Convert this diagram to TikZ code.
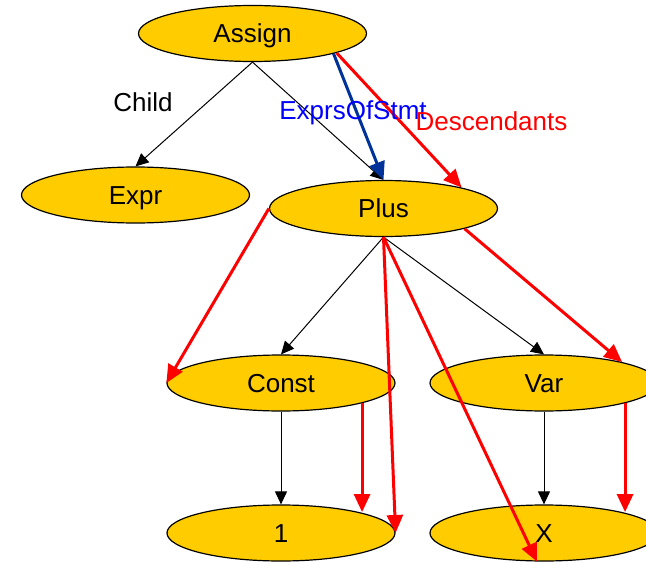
\documentclass[tikz,border=0pt]{standalone}
\usepackage{fontspec}
\setmainfont{Liberation Sans}
\usetikzlibrary{shapes.geometric,arrows.meta}
\definecolor{nodegold}{RGB}{255,204,0}
\definecolor{stmtblue}{RGB}{0,51,153}
\definecolor{labelblue}{RGB}{0,0,255}
\definecolor{descred}{RGB}{255,0,0}
\tikzset{
  astnode/.style={ellipse, draw=black, line width=1.2pt, fill=nodegold,
    minimum width=228pt, minimum height=56pt, inner sep=0pt,
    text height=18.6pt, text depth=0pt,
    font=\fontsize{26}{30}\selectfont},
  childedge/.style={draw=black, line width=1pt,
    -{Triangle[length=13pt,width=12pt]}},
  descedge/.style={draw=descred, line width=3pt,
    -{Triangle[length=18pt,width=16pt]}},
  stmtedge/.style={draw=stmtblue, line width=3pt,
    -{Triangle[length=18pt,width=16pt]}},
  edgelabel/.style={inner sep=0pt, text height=18.6pt, text depth=0pt,
    font=\fontsize{26}{30}\selectfont}
}
\begin{document}
\begin{tikzpicture}[x=1pt,y=-1pt]
  \useasboundingbox (0,0) rectangle (646,562);
  \clip (0,0) rectangle (646,562);

  % tree nodes
  \node[astnode] (Assign) at (252.5,33.5) {Assign};
  \node[astnode] (Expr)   at (135.5,195)  {Expr};
  \node[astnode] (Plus)   at (383.5,208.5) {Plus};
  \node[astnode] (Const)  at (281,383)    {Const};
  \node[astnode] (Var)    at (544,383)    {Var};
  \node[astnode] (one)    at (281,533)    {1};
  \node[astnode] (X)      at (544,533)    {X};

  % child edges
  \draw[childedge] (Assign.south) -- (Expr.north);
  \draw[childedge] (Assign.south) -- (Plus.north);
  \draw[childedge] (Plus.south) -- (Const.north);
  \draw[childedge] (Plus.south) -- (Var.north);
  \draw[childedge] (Const.south) -- (one.north);
  \draw[childedge] (Var.south) -- (X.north);

  % expressions of the statement
  \draw[stmtedge] (Assign.-14) -- (Plus.north);

  % descendant edges
  \draw[descedge] (Assign.-13) -- (Plus.15);
  \draw[descedge] (Plus.west) -- (Const.west);
  \draw[descedge] (Plus.-14) -- (Var.15);
  \draw[descedge] (Plus.south) -- (one.east);
  \draw[descedge] (Plus.south) -- (X.-104);
  \draw[descedge] (Const.-14) -- (Const.-14 |- one.15);
  \draw[descedge] (Var.-14) -- (Var.-14 |- X.15);

  % edge labels
  \node[edgelabel] (childlbl) at (143,102) {Child};
  \node[edgelabel, text=labelblue] (stmtlbl) at (353,110) {ExprsOfStmt};
  \node[edgelabel, text=descred] (desclbl) at (491.5,121) {Descendants};
\end{tikzpicture}
\end{document}
